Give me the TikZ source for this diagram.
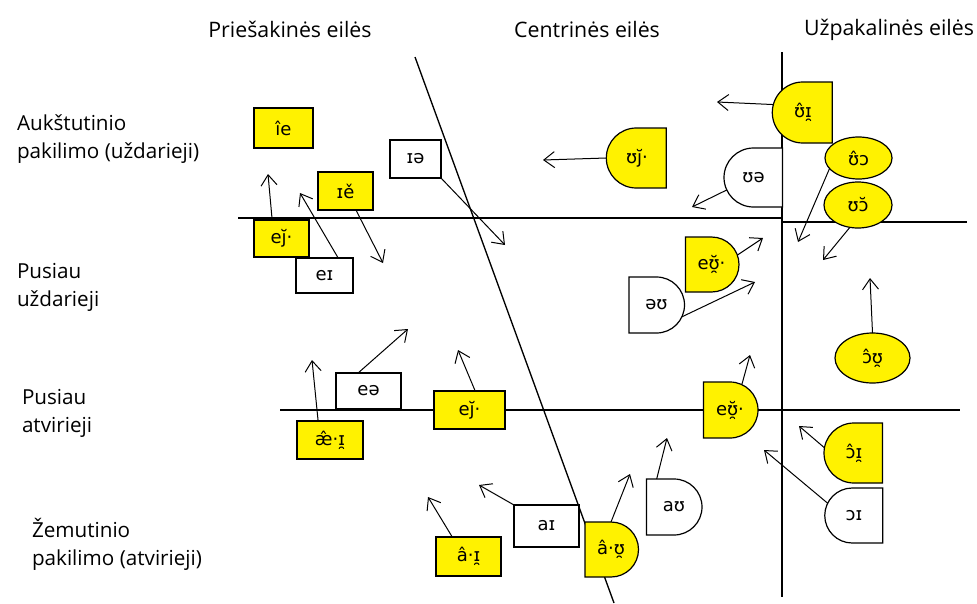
\documentclass[tikz,border=0pt]{standalone}
\usepackage{fontspec}
\setmainfont{Open Sans}
\newfontfamily\ipafont{DejaVu Sans}
\usetikzlibrary{shapes.geometric,shapes.misc,arrows.meta,calc}
\begin{document}
\begin{tikzpicture}[x=0.75pt,y=-0.75pt,
  every node/.style={inner sep=0pt, outer sep=0pt},
  lbl/.style={font=\fontsize{15.5}{21}\selectfont, align=left, anchor=base west},
  hdr/.style={font=\fontsize{16}{19}\selectfont, anchor=base},
  shp/.style={draw, line width=0.9pt, font=\ipafont\fontsize{13.5}{15}\selectfont},
  yel/.style={shp, fill=yellow},
  wht/.style={shp, fill=white},
  sz/.style 2 args={minimum width=#1*0.75pt, minimum height=#2*0.75pt},
  rbox/.style={rectangle},
  dright/.style={rounded rectangle, rounded rectangle left arc=none},
  dleft/.style={rounded rectangle, rounded rectangle right arc=none},
  ell/.style={ellipse},
  arr/.style={-{Straight Barb[length=8pt,width=12pt]}, line width=0.75pt},
  axisline/.style={line width=1pt}
]
\useasboundingbox (0,0) rectangle (977,603);
\fill[white] (0,0) rectangle (977,603);

% headers
\node[hdr] (h1) at (290,37) {Priešakinės eilės};
\node[hdr] (h2) at (587,37) {Centrinės eilės};
\node[hdr] (h3) at (889,35) {Užpakalinės eilės};

% row labels (anchor = baseline of the last line)
\node[lbl] (r1) at (17,158) {Aukštutinio\\pakilimo (uždarieji)};
\node[lbl] (r2) at (17,306) {Pusiau\\uždarieji};
\node[lbl] (r3) at (22,432) {Pusiau\\atvirieji};
\node[lbl] (r4) at (32,565) {Žemutinio\\pakilimo (atvirieji)};

% axes
\coordinate (d1) at (415,57);
\coordinate (d2) at (614,603);
\draw[axisline] (d1) -- (d2);
\coordinate (hA) at (238,218);
\coordinate (hB) at (782,218);
\coordinate (hC) at (782,222);
\coordinate (hD) at (967,222);
\draw[axisline] (hA) -- (hB);
\draw[axisline] (hC) -- (hD);
\coordinate (vA) at (782,52);
\coordinate (vB) at (782,597);
\draw[axisline] (vA) -- (vB);
\coordinate (mA) at (280,410);
\coordinate (mB) at (960,410);
\draw[axisline] (mA) -- (mB);

% rectangles
\node[yel,rbox,sz={59}{40}] (ie) at (283.5,128) {îe};
\node[yel,rbox,sz={55}{38}] (ie2) at (345.5,191) {ɪě};
\node[yel,rbox,sz={55}{37}] (ej1) at (281.5,238.5) {eȷ̆·};
\node[wht,rbox,sz={57}{35}] (eI) at (324.5,275.5) {eɪ};
\node[wht,rbox,sz={51}{38}] (Ie) at (415.5,159) {ɪə};
\node[yel,rbox,sz={66}{38}] (ae) at (330,440) {æ̂·ɪ̯};
\node[wht,rbox,sz={65}{36}] (ea) at (368.5,391) {eə};
\node[yel,rbox,sz={71}{38}] (ej2) at (469.5,410) {eȷ̆·};
\node[yel,rbox,sz={65}{39}] (ai1) at (468.5,556.5) {â·ɪ̯};
\node[wht,rbox,sz={65}{42}] (aI) at (546.5,526) {aɪ};

% D shapes, round on the right
\node[yel,dright,sz={52}{55}] (aU2) at (611,549.5) {â·ʊ̯};
\node[wht,dright,sz={52}{56}] (aU) at (674,507) {aʊ};
\node[yel,dright,sz={54}{56}] (eu2) at (730,410) {eʊ̯̆·};
\node[wht,dright,sz={53}{56}] (oU) at (656.5,305) {əʊ};
\node[yel,dright,sz={53}{55}] (eu1) at (711.5,264.5) {eʊ̯̆·};

% D shapes, round on the left
\node[yel,dleft,sz={60}{60}] (uj) at (637,158) {ʊȷ̆·};
\node[wht,dleft,sz={57}{59}] (Ua) at (753.5,177.5) {ʊə};
\node[yel,dleft,sz={60}{61}] (uI) at (803,112.5) {ʊ̂ɪ̯};
\node[yel,dleft,sz={58}{60}] (oI2) at (854,453) {ɔ̂ɪ̯};
\node[wht,dleft,sz={58}{55}] (OI) at (854,515.5) {ɔɪ};

% ellipses
\node[yel,ell,sz={67}{42}] (uo1) at (858.5,158) {ʊ̂ɔ};
\node[yel,ell,sz={68}{46}] (uo2) at (858,205) {ʊɔ̆};
\node[yel,ell,sz={75}{50}] (ou) at (872.5,358) {ɔ̂ʊ̯};

% arrow tips
\coordinate (t1) at (268,174);
\coordinate (t2) at (300,193);
\coordinate (t3) at (383,263);
\coordinate (t4) at (505,245);
\coordinate (t5) at (543,160);
\coordinate (t6) at (717,102);
\coordinate (t7) at (692,207);
\coordinate (t8) at (798,242);
\coordinate (t9) at (823,260);
\coordinate (t10) at (870,278);
\coordinate (t11) at (763,238);
\coordinate (t12) at (755,282);
\coordinate (t13) at (750,355);
\coordinate (t14) at (312,360);
\coordinate (t15) at (408,329);
\coordinate (t16) at (458,350);
\coordinate (t17) at (428,497);
\coordinate (t18) at (479,485);
\coordinate (t19) at (630,474);
\coordinate (t20) at (667,438);
\coordinate (t21) at (799,426);
\coordinate (t22) at (764,450);

% arrows
\draw[arr] ($(ej1.north west)!0.33!(ej1.north east)$) -- (t1);
\draw[arr] ($(eI.north west)!0.74!(eI.north east)$) -- (t2);
\draw[arr] ($(ie2.south west)!0.69!(ie2.south east)$) -- (t3);
\draw[arr] (Ie.south east) -- (t4);
\draw[arr] (uj.west) -- (t5);
\draw[arr] (uI.165) -- (t6);
\draw[arr] (Ua.205) -- (t7);
\draw[arr] (uo1.200) -- (t8);
\draw[arr] (uo2.250) -- (t9);
\draw[arr] (ou.north) -- (t10);
\draw[arr] (eu1.20) -- (t11);
\draw[arr] (oU.-25) -- (t12);
\draw[arr] (eu2.65) -- (t13);
\draw[arr] ($(ae.north west)!0.32!(ae.north east)$) -- (t14);
\draw[arr] ($(ea.north west)!0.34!(ea.north east)$) -- (t15);
\draw[arr] ($(ej2.north west)!0.58!(ej2.north east)$) -- (t16);
\draw[arr] ($(ai1.north west)!0.25!(ai1.north east)$) -- (t17);
\draw[arr] (aI.north west) -- (t18);
\draw[arr] (aU2.north) -- (t19);
\draw[arr] ($(aU.north west)!0.37!(aU.north east)$) -- (t20);
\draw[arr] (oI2.170) -- (t21);
\draw[arr] (OI.155) -- (t22);
\end{tikzpicture}
\end{document}
